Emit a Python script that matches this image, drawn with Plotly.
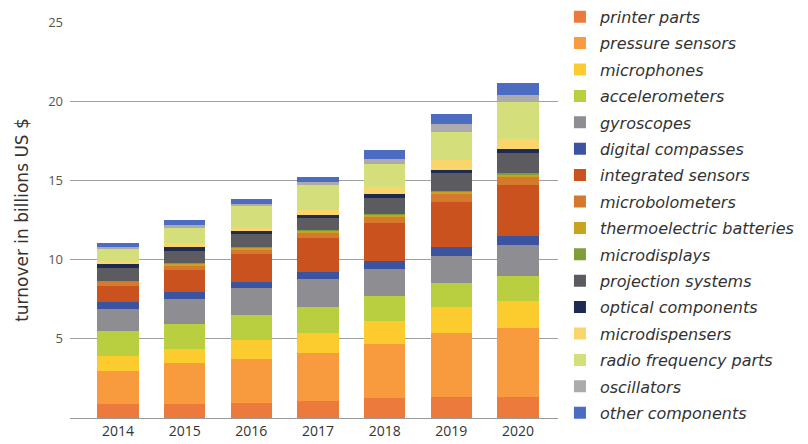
import plotly.graph_objects as go

years = ["2014", "2015", "2016", "2017", "2018", "2019", "2020"]

printer_parts = [0.9, 0.9, 0.95, 1.05, 1.25, 1.3, 1.3]
pressure_sensors = [2.05, 2.55, 2.8, 3.05, 3.4, 4.1, 4.4]
microphones = [0.95, 0.9, 1.15, 1.3, 1.45, 1.6, 1.7]
accelerometers = [1.6, 1.6, 1.6, 1.6, 1.6, 1.55, 1.6]
gyroscopes = [1.4, 1.6, 1.7, 1.8, 1.7, 1.7, 1.9]
digital_compasses = [0.4, 0.4, 0.4, 0.4, 0.5, 0.55, 0.6]
integrated_sensors = [1.05, 1.4, 1.75, 2.2, 2.4, 2.85, 3.2]
microbolometers = [0.25, 0.3, 0.3, 0.35, 0.45, 0.5, 0.55]
thermoelectric_batteries = [0.05, 0.08, 0.1, 0.1, 0.12, 0.15, 0.15]
microdisplays = [0.03, 0.05, 0.05, 0.05, 0.05, 0.05, 0.05]
projection_systems = [0.8, 0.75, 0.8, 0.75, 0.95, 1.1, 1.3]
optical_components = [0.25, 0.25, 0.2, 0.2, 0.3, 0.25, 0.25]
microdispensers = [0.2, 0.25, 0.2, 0.3, 0.45, 0.6, 0.65]
radio_frequency_parts = [0.75, 1.0, 1.4, 1.6, 1.45, 1.8, 2.3]
oscillators = [0.1, 0.15, 0.1, 0.15, 0.3, 0.45, 0.45]
other_components = [0.3, 0.3, 0.35, 0.35, 0.55, 0.65, 0.75]

series_names = [
    "printer parts", "pressure sensors", "microphones", "accelerometers",
    "gyroscopes", "digital compasses", "integrated sensors", "microbolometers",
    "thermoelectric batteries", "microdisplays", "projection systems",
    "optical components", "microdispensers", "radio frequency parts",
    "oscillators", "other components",
]
series_values = [
    printer_parts, pressure_sensors, microphones, accelerometers,
    gyroscopes, digital_compasses, integrated_sensors, microbolometers,
    thermoelectric_batteries, microdisplays, projection_systems,
    optical_components, microdispensers, radio_frequency_parts,
    oscillators, other_components,
]
colors = [
    "#EC7A3C", "#F89B3E", "#FCCB2E", "#B9CF3F",
    "#8E8E92", "#3C54A0", "#C9521E", "#D57A2C",
    "#C9A21E", "#7E9E3A", "#5C5C60", "#1E2A52",
    "#F8D66C", "#D4DF7C", "#ABABAD", "#4C6CC2",
]

y_ticks = [5, 10, 15, 20, 25]

fig = go.Figure()
for name, vals, col in zip(series_names, series_values, colors):
    fig.add_trace(go.Bar(
        x=years, y=vals, name=name, legendgroup=name,
        marker=dict(color=col, line=dict(width=0)),
        width=0.62,
    ))

fig.update_layout(
    barmode="stack",
    width=808, height=444,
    margin=dict(l=70, r=250, t=22, b=26, autoexpand=False),
    plot_bgcolor="white", paper_bgcolor="white",
    font=dict(family="Open Sans, DejaVu Sans, sans-serif", color="#333333", size=13),
    legend=dict(
        x=1.004, xanchor="left", y=1.056, yanchor="top",
        traceorder="grouped", tracegroupgap=2.6,
        font=dict(family="DejaVu Sans, sans-serif", size=16, style="italic", color="#333333"),
        itemwidth=30, maxheight=444,
        bgcolor="rgba(0,0,0,0)",
    ),
    xaxis=dict(
        type="category",
        range=[-0.72, 6.6],
        showgrid=False, showline=True, linecolor="#999999", linewidth=1,
        ticks="", tickfont=dict(size=14, color="#333333"),
    ),
    yaxis=dict(
        range=[0, 25.02], tickvals=y_ticks,
        showgrid=True, gridcolor="#A0A0A0", gridwidth=1,
        zeroline=False, showline=False,
        ticks="", ticklabelstandoff=6,
        tickfont=dict(size=13, color="#555555"),
        title=dict(text="turnover in billions US $",
                   font=dict(family="DejaVu Sans, sans-serif", size=17, color="#333333"),
                   standoff=15),
    ),
    showlegend=True,
)

fig.write_html(
    "out.html",
    config={"displayModeBar": False},
    post_script="document.body.style.margin='0';document.body.style.overflow='hidden';",
)
